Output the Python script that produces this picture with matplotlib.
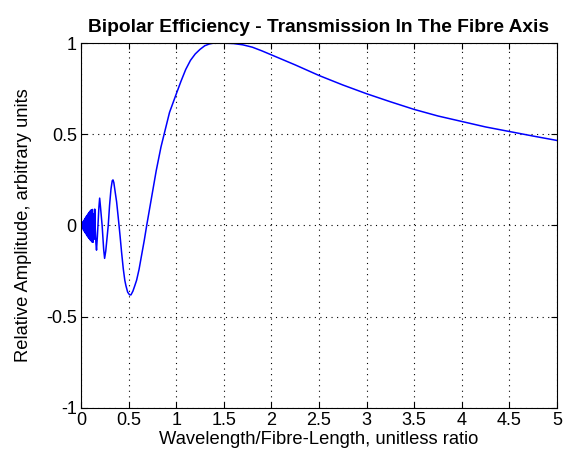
import matplotlib
matplotlib.use("Agg")
import matplotlib.pyplot as plt

# Curve values (x = wavelength / fibre length, y = relative amplitude)
x_vals = [
    0.000, 0.008, 0.012, 0.016, 0.020, 0.024, 0.028, 0.032, 0.036, 0.040,
    0.044, 0.048, 0.052, 0.056, 0.060, 0.064, 0.068, 0.072, 0.076, 0.080,
    0.084, 0.088, 0.092, 0.097, 0.102, 0.108, 0.114, 0.120, 0.126, 0.133,
    0.139, 0.144, 0.150, 0.157, 0.163, 0.172, 0.180, 0.188, 0.196, 0.205,
    0.222, 0.238, 0.248, 0.260, 0.275, 0.286, 0.300, 0.315, 0.328, 0.336,
    0.345, 0.360, 0.374, 0.390, 0.410, 0.425, 0.444, 0.460, 0.472, 0.490,
    0.510, 0.525, 0.545, 0.565, 0.584, 0.610, 0.636, 0.665, 0.690, 0.740,
    0.790, 0.840, 0.873, 0.930, 1.000, 1.050, 1.100, 1.150, 1.200, 1.250,
    1.300, 1.350, 1.400, 1.450, 1.500, 1.600, 1.700, 1.800, 1.900, 2.000,
    2.250, 2.500, 2.750, 3.000, 3.250, 3.500, 3.750, 4.000, 4.250, 4.500,
    4.750, 5.000,
]
y_vals = [
    0.000, 0.010, -0.012, 0.016, -0.019, 0.023, -0.026, 0.030, -0.033, 0.036,
    -0.040, 0.043, -0.046, 0.050, -0.053, 0.056, -0.059, 0.062, -0.065, 0.068,
    -0.071, 0.074, -0.077, 0.080, -0.083, 0.086, -0.090, 0.088, -0.092, 0.065,
    -0.075, 0.090, -0.020, -0.100, -0.135, -0.060, 0.020, 0.100, 0.150, 0.100,
    0.000, -0.130, -0.180, -0.140, -0.060, 0.000, 0.110, 0.200, 0.245, 0.250,
    0.235, 0.180, 0.130, 0.050, -0.055, -0.140, -0.237, -0.300, -0.330, -0.365,
    -0.380, -0.380, -0.360, -0.330, -0.300, -0.240, -0.164, -0.080, 0.000, 0.150,
    0.300, 0.430, 0.500, 0.620, 0.720, 0.790, 0.855, 0.905, 0.940, 0.965,
    0.985, 0.995, 1.000, 1.000, 0.999, 0.997, 0.990, 0.977, 0.957, 0.935,
    0.880, 0.822, 0.770, 0.722, 0.678, 0.636, 0.600, 0.570, 0.540, 0.515,
    0.490, 0.466,
]

x_ticks = [0, 0.5, 1, 1.5, 2, 2.5, 3, 3.5, 4, 4.5, 5]
x_tick_labels = ["0", "0.5", "1", "1.5", "2", "2.5", "3", "3.5", "4", "4.5", "5"]
y_ticks = [-1, -0.5, 0, 0.5, 1]
y_tick_labels = ["-1", "-0.5", "0", "0.5", "1"]

title = "Bipolar Efficiency - Transmission In The Fibre Axis"
xlabel = "Wavelength/Fibre-Length, unitless ratio"
ylabel = "Relative Amplitude, arbitrary units"

plt.rcParams["font.family"] = ["Liberation Sans", "DejaVu Sans"]

fig = plt.figure(figsize=(5.63, 4.62), dpi=100)
ax = fig.add_axes([81 / 563, 1 - 408 / 462, (557 - 81) / 563, (408 - 43) / 462])

ax.plot(x_vals, y_vals, color=(0, 0, 1), linewidth=1.1)

ax.set_xlim(0, 5)
ax.set_ylim(-1, 1)
ax.set_xticks(x_ticks)
ax.set_xticklabels(x_tick_labels)
ax.set_yticks(y_ticks)
ax.set_yticklabels(y_tick_labels)

ax.tick_params(direction="in", top=True, right=True, length=4, width=0.8,
               labelsize=13, colors="black", pad=3)
ax.grid(True, color="black", linestyle=(0, (1, 4)), linewidth=0.8)
for s in ax.spines.values():
    s.set_linewidth(0.8)
    s.set_color("black")

ax.set_title(title, fontsize=13.8, fontweight="bold", pad=8)
ax.set_xlabel(xlabel, fontsize=13.2, labelpad=1)
ax.set_ylabel(ylabel, fontsize=13.2, labelpad=10)

fig.savefig("out.png", dpi=100, facecolor="white")
